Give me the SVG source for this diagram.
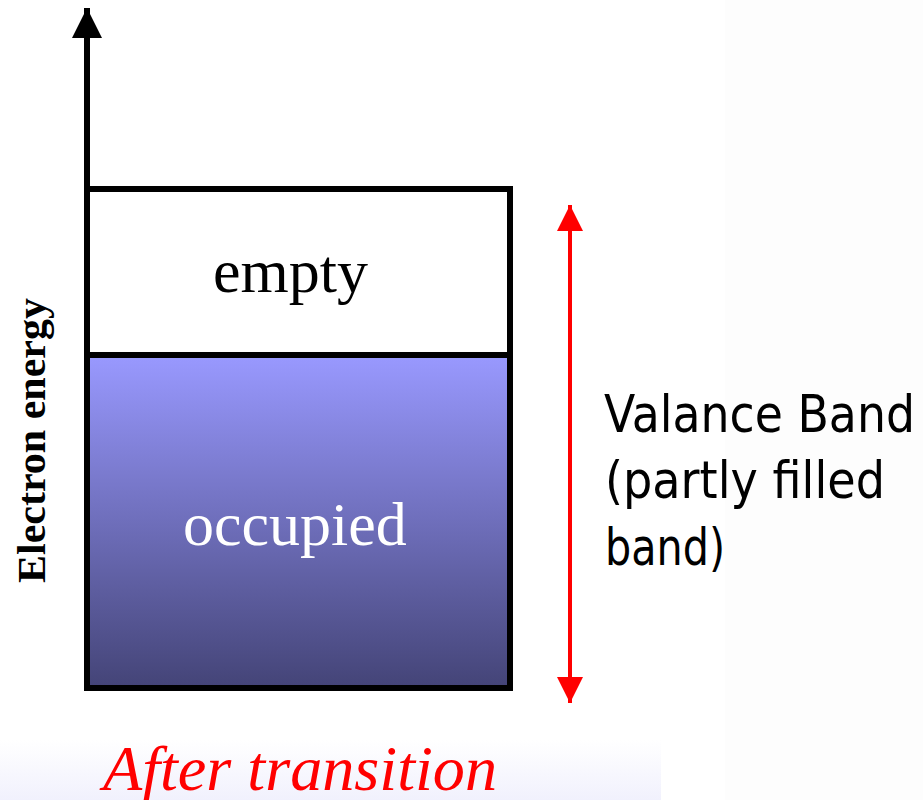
<svg xmlns="http://www.w3.org/2000/svg" width="923" height="800" viewBox="0 0 923 800">
<defs>
<linearGradient id="occ" x1="0" y1="0" x2="0" y2="1">
<stop offset="0" stop-color="#9999ff"/>
<stop offset="1" stop-color="#444477"/>
</linearGradient>
<linearGradient id="bg" x1="0" y1="0" x2="0" y2="1">
<stop offset="0" stop-color="#ffffff"/>
<stop offset="1" stop-color="#f1f1fd"/>
</linearGradient>
<marker id="blackHead" viewBox="0 0 10 10" refX="10" refY="5" markerWidth="5" markerHeight="5" markerUnits="strokeWidth" orient="auto">
<path d="M0,0 L10,5 L0,10 Z" fill="#000"/>
</marker>
<marker id="redHead" viewBox="0 0 10 10" refX="10" refY="5" markerWidth="6.5" markerHeight="6.5" markerUnits="strokeWidth" orient="auto-start-reverse">
<path d="M0,0 L10,5 L0,10 Z" fill="#ff0000"/>
</marker>
<style>
.serif{font-family:"Liberation Serif","Times New Roman",serif}
.sans{font-family:"DejaVu Sans","Noto Sans",sans-serif;font-size:52px;fill:#000}
</style>
</defs>
<rect width="923" height="800" fill="#ffffff"/>
<rect x="725" y="0" width="198" height="800" fill="#fdfdfd"/>
<rect x="0" y="740" width="661" height="60" fill="url(#bg)"/>

<g id="connectors">
<line x1="87" y1="190" x2="87" y2="8" stroke="#000" stroke-width="6" marker-end="url(#blackHead)"/>
<line x1="570" y1="205" x2="570" y2="703" stroke="#ff0000" stroke-width="4" marker-start="url(#redHead)" marker-end="url(#redHead)"/>
</g>

<g id="empty-band">
<rect x="87" y="189" width="423" height="166" fill="#ffffff" stroke="#000" stroke-width="6"/>
<text class="serif" x="213" y="292" font-size="62" fill="#000">empty</text>
</g>

<g id="occupied-band">
<rect x="87" y="355" width="423" height="333" fill="url(#occ)" stroke="#000" stroke-width="6"/>
<text class="serif" x="183" y="545" font-size="62" fill="#ffffff">occupied</text>
</g>

<g id="axis-label">
<text class="serif" transform="translate(45,583) rotate(-90)" font-size="41" font-weight="bold" fill="#000" textLength="285" lengthAdjust="spacingAndGlyphs">Electron energy</text>
</g>

<g id="band-label">
<text class="sans" x="604" y="432" textLength="311" lengthAdjust="spacingAndGlyphs">Valance Band</text>
<text class="sans" x="605" y="498" textLength="280" lengthAdjust="spacingAndGlyphs">(partly filled</text>
<text class="sans" x="605" y="565" textLength="120" lengthAdjust="spacingAndGlyphs">band)</text>
</g>

<g id="caption">
<text class="serif" x="103" y="790" font-size="64" font-style="italic" fill="#ff0000" textLength="394" lengthAdjust="spacingAndGlyphs">After transition</text>
</g>
</svg>
